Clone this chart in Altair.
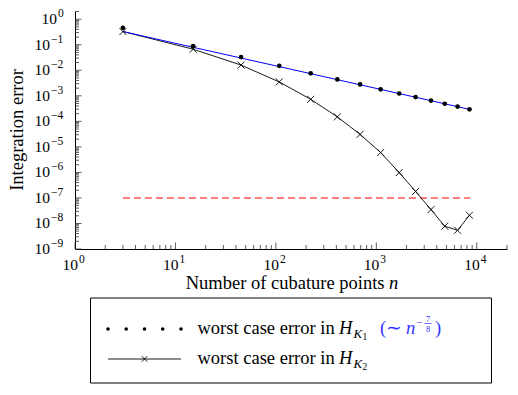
import altair as alt
import pandas as pd

FONT = "Liberation Serif"
W, H = 432, 238

# ---- data ----
n_points = [3, 15, 45, 108, 222, 409, 689, 1104, 1690, 2460, 3500, 4800, 6440, 8460]
wce_k1 = [0.46, 0.089, 0.033, 0.0149, 0.0076, 0.0044, 0.0028, 0.0018, 0.00123,
          0.00089, 0.00065, 0.00049, 0.00038, 0.000295]
wce_k2 = [0.33, 0.067, 0.016, 0.0035, 7.3e-4, 1.5e-4, 3.1e-5, 6.0e-6, 9.8e-7,
          1.8e-7, 3.5e-8, 7.8e-9, 5.4e-9, 2.1e-8]
rate_n = [3, 8460]
rate_err = [0.33, 0.000295]
threshold_n = [3, 8600]
threshold_err = [1e-7, 1e-7]

x_major = [1, 10, 100, 1000, 10000]
x_exp = ["0", "1", "2", "3", "4"]
y_major = [1e-9, 1e-8, 1e-7, 1e-6, 1e-5, 1e-4, 1e-3, 1e-2, 1e-1, 1]
y_exp = ["−9", "−8", "−7", "−6", "−5", "−4", "−3", "−2", "−1", "0"]
x_minor = [k * 10 ** e for e in range(0, 4) for k in range(2, 10)] + [20000]
y_minor = [k * 10.0 ** e for e in range(-9, 0) for k in range(2, 10)] + [2]

x_title = ["Number of cubature points", "n"]
y_title = ["Integration error"]
legend_text = ["worst case error in", "worst case error in"]
legend_math = ["H", "K", "1", "2"]
legend_rate = ["(∼", "n", "−", "7", "8", ")"]

# ---- scales / axes ----
xs = alt.Scale(type="log", domain=[1, 20000], nice=False)
ys = alt.Scale(type="log", domain=[1e-9, 2.1], nice=False)

common = dict(ticks=False, tickSize=0, grid=False, labels=False, domainColor="black",
              domainWidth=1, title=None)
xaxis = alt.Axis(values=x_major, **common)
yaxis = alt.Axis(values=y_major, **common)

X = alt.X("n:Q", scale=xs, axis=xaxis)
Y = alt.Y("err:Q", scale=ys, axis=yaxis)

df1 = pd.DataFrame({"n": n_points, "err": wce_k1})
df2 = pd.DataFrame({"n": n_points, "err": wce_k2})
df_rate = pd.DataFrame({"n": rate_n, "err": rate_err})
df_thr = pd.DataFrame({"n": threshold_n, "err": threshold_err})

layers = []

# inward ticks
for vals, ln in [(x_major, 6.5), (x_minor, 4)]:
    layers.append(alt.Chart(pd.DataFrame({"n": vals})).mark_rule(color="#333", strokeWidth=0.8)
                  .encode(x=X, y=alt.value(H), y2=alt.value(H - ln)))
for vals, ln in [(y_major, 6.5), (y_minor, 4)]:
    layers.append(alt.Chart(pd.DataFrame({"err": vals})).mark_rule(color="#333", strokeWidth=0.8)
                  .encode(y=Y, x=alt.value(0), x2=alt.value(ln)))

# tick labels: "10" with a raised exponent
LBL = 15.5
EXP = 11.5
dfx = pd.DataFrame({"n": x_major, "base": ["10"] * len(x_major), "exp": x_exp})
layers.append(alt.Chart(dfx).mark_text(font=FONT, fontSize=LBL, align="right", baseline="alphabetic",
                                       dx=3, color="black")
              .encode(x=X, y=alt.value(H + 21), text="base:N"))
layers.append(alt.Chart(dfx).mark_text(font=FONT, fontSize=EXP, align="left", baseline="alphabetic",
                                       dx=4, color="black")
              .encode(x=X, y=alt.value(H + 14), text="exp:N"))

dfy_neg = pd.DataFrame({"err": y_major[:-1], "base": ["10"] * (len(y_major) - 1), "exp": y_exp[:-1]})
dfy_zero = pd.DataFrame({"err": y_major[-1:], "base": ["10"], "exp": y_exp[-1:]})
for dfy, xr in [(dfy_neg, -25), (dfy_zero, -18)]:
    layers.append(alt.Chart(dfy).mark_text(font=FONT, fontSize=LBL, align="right", baseline="alphabetic",
                                           dy=5, color="black")
                  .encode(y=Y, x=alt.value(xr), text="base:N"))
    layers.append(alt.Chart(dfy).mark_text(font=FONT, fontSize=EXP, align="left", baseline="alphabetic",
                                           dy=-2, color="black")
                  .encode(y=Y, x=alt.value(xr + 1), text="exp:N"))

# threshold
layers.append(alt.Chart(df_thr).mark_line(color="#ff0000", strokeWidth=1.1, strokeDash=[7, 4])
              .encode(x=X, y=Y))
# K2 line
layers.append(alt.Chart(df2).mark_line(color="black", strokeWidth=0.9).encode(x=X, y=Y))
# rate line
layers.append(alt.Chart(df_rate).mark_line(color="#0000ff", strokeWidth=1).encode(x=X, y=Y))

XPATH = "M-1,-1L1,1M1,-1L-1,1"
layers.append(alt.Chart(df2).mark_point(shape=XPATH, size=49, filled=False, color="black",
                                        strokeWidth=0.9, opacity=1).encode(x=X, y=Y))
layers.append(alt.Chart(df1).mark_circle(size=22, color="black", opacity=1).encode(x=X, y=Y))


def txt(s, x, y, size, style="normal", color="black", align="left", angle=0):
    return alt.Chart(pd.DataFrame({"t": [s]})).mark_text(
        font=FONT, fontSize=size, fontStyle=style, color=color, align=align, angle=angle,
        baseline="alphabetic").encode(x=alt.value(x), y=alt.value(y), text="t:N")


# axis titles
layers.append(txt(y_title[0], -52, H / 2, 18.5, align="center", angle=270))
layers.append(txt(x_title[0], 110.7, H + 40, 18.5))
layers.append(txt(x_title[1], 314.1, H + 40, 18.5, style="italic"))

# legend box
row1, row2 = H + 80, H + 110
layers.append(alt.Chart(pd.DataFrame({"b": [0]})).mark_rect(fill="white", stroke="black", strokeWidth=1)
              .encode(x=alt.value(15.5), x2=alt.value(416.5), y=alt.value(H + 49), y2=alt.value(H + 134)))

for px in [33, 51.2, 69.5, 87.7, 106]:
    layers.append(alt.Chart(pd.DataFrame({"b": [0]})).mark_circle(size=13, color="black", opacity=1)
                  .encode(x=alt.value(px), y=alt.value(row1)))
layers.append(alt.Chart(pd.DataFrame({"b": [0]})).mark_rule(color="black", strokeWidth=0.9)
              .encode(x=alt.value(33), x2=alt.value(106), y=alt.value(row2)))
layers.append(alt.Chart(pd.DataFrame({"b": [0]})).mark_point(shape=XPATH, size=30, filled=False,
                                                            color="black", strokeWidth=0.9, opacity=1)
              .encode(x=alt.value(69.5), y=alt.value(row2)))

for row, sub in [(row1, legend_math[2]), (row2, legend_math[3])]:
    b = row + 5
    layers.append(txt(legend_text[0], 122.5, b, 18.5))
    layers.append(txt(legend_math[0], 264, b, 18.5, style="italic"))
    layers.append(txt(legend_math[1], 278.5, b + 4, 13, style="italic"))
    layers.append(txt(sub, 287.5, b + 6, 9.5))

BLUE = "#3333ff"
b = row1 + 5
layers.append(txt(legend_rate[0], 305, b, 18.5, color=BLUE))
layers.append(txt(legend_rate[1], 331, b, 18.5, style="italic", color=BLUE))
layers.append(txt(legend_rate[2], 341, b - 8, 11, color=BLUE))
layers.append(txt(legend_rate[3], 353, b - 12, 8.5, color=BLUE, align="center"))
layers.append(txt(legend_rate[4], 353, b - 2.5, 8.5, color=BLUE, align="center"))
layers.append(alt.Chart(pd.DataFrame({"b": [0]})).mark_rule(color=BLUE, strokeWidth=0.7)
              .encode(x=alt.value(349.5), x2=alt.value(356.5), y=alt.value(b - 10.5)))
layers.append(txt(legend_rate[5], 360, b, 18.5, color=BLUE))

chart = alt.layer(*layers).properties(width=W, height=H, padding=0).configure_view(stroke=None)

chart.save("out.html", embed_options={"renderer": "svg", "actions": False})
